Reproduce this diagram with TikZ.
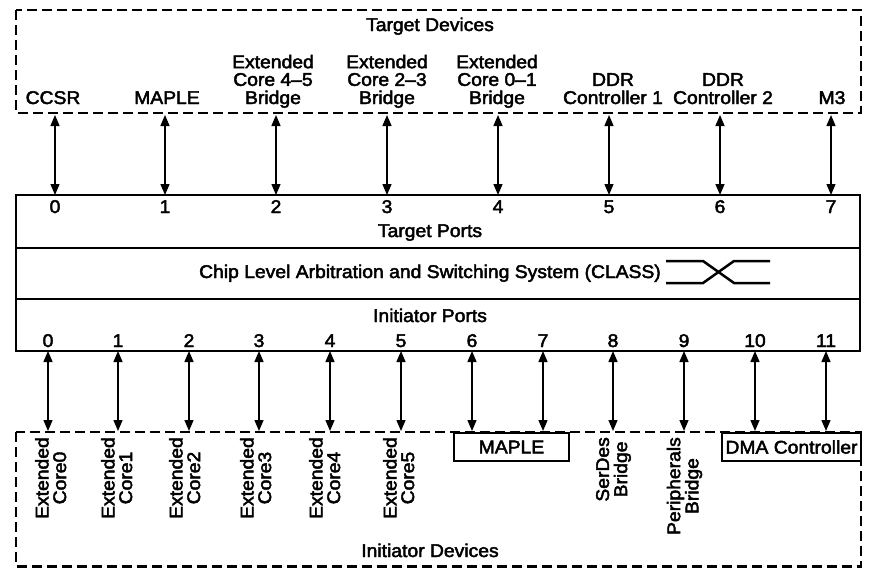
\documentclass[tikz,border=0pt]{standalone}
\usepackage{fontspec}
\setmainfont{Liberation Sans}[FakeStretch=1.05,FakeBold=2.5]
\usetikzlibrary{arrows.meta}
\newcommand{\lines}[1]{\begin{tabular}[b]{@{}c@{}}#1\end{tabular}}
\newcommand{\rlines}[1]{\begin{tabular}{@{}c@{}}#1\end{tabular}}
\begin{document}
\begin{tikzpicture}[x=1pt,y=-1pt,
  every node/.style={inner sep=0pt, font=\fontsize{18.4}{16}\selectfont},
  dbox/.style={draw, line width=2.6pt, dash pattern=on 10pt off 5pt},
  solidbox/.style={draw, line width=1.5pt},
  conn/.style={{Triangle[length=11pt,width=9pt]}-{Triangle[length=11pt,width=9pt]}, line width=1.4pt},
  lbl/.style={anchor=base},
  rlbl/.style={rotate=90, anchor=east},
  xline/.style={line width=2.5pt}
]
\useasboundingbox (0,0) rectangle (872,568);
% boxes
\draw[dbox] (16,10) rectangle (861,113);
\draw[dbox] (16,432) rectangle (861,566.5);
\draw[solidbox] (16,195) rectangle (860,351);
\draw[solidbox] (16,248) -- (860,248);
\draw[solidbox] (16,299) -- (860,299);

% titles
\node[lbl] (tdev) at (430,31) {Target Devices};
\node[lbl] (tports) at (430,237) {Target Ports};
\node[lbl] (class) at (430,278) {Chip Level Arbitration and Switching System (CLASS)};
\node[lbl] (iports) at (430,322) {Initiator Ports};
\node[lbl] (idev) at (430,557) {Initiator Devices};

% crossing symbol
\draw[xline] (666,261) -- (703,261) -- (734,283) -- (770,283);
\draw[xline] (666,283) -- (703,283) -- (734,261) -- (770,261);

% target devices
\node[lbl] (d0) at (53,104) {CCSR};
\node[lbl] (d1) at (167,104) {MAPLE};
\node[lbl] (d2) at (273,104) {\lines{Extended\\Core 4--5\\Bridge}};
\node[lbl] (d3) at (387,104) {\lines{Extended\\Core 2--3\\Bridge}};
\node[lbl] (d4) at (497,104) {\lines{Extended\\Core 0--1\\Bridge}};
\node[lbl] (d5) at (613,104) {\lines{DDR\\Controller 1}};
\node[lbl] (d6) at (723,104) {\lines{DDR\\Controller 2}};
\node[lbl] (d7) at (832,104) {M3};

% target ports and arrows
\foreach \i/\x in {0/55,1/165,2/276,3/387,4/498,5/609,6/720,7/831}{
  \coordinate (ta\i) at (\x,115);
  \coordinate (tb\i) at (\x,195);
  \node[lbl] (tp\i) at (\x,213) {\i};
  \draw[conn] (ta\i) -- (tb\i);
}

% initiator ports and arrows
\foreach \i/\x in {0/48,1/118,2/189,3/259,4/330,5/401,6/472,7/543,8/613,9/684,10/755,11/826}{
  \coordinate (ia\i) at (\x,351);
  \coordinate (ib\i) at (\x,431);
  \node[lbl] (ip\i) at (\x,347) {\i};
  \draw[conn] (ia\i) -- (ib\i);
}

% initiator devices
\node[rlbl] (c0) at (53,437) {\rlines{Extended\\Core0}};
\node[rlbl] (c1) at (119,437) {\rlines{Extended\\Core1}};
\node[rlbl] (c2) at (187,437) {\rlines{Extended\\Core2}};
\node[rlbl] (c3) at (258,437) {\rlines{Extended\\Core3}};
\node[rlbl] (c4) at (327,437) {\rlines{Extended\\Core4}};
\node[rlbl] (c5) at (401,437) {\rlines{Extended\\Core5}};
\node[rlbl] (serdes) at (614,437) {\rlines{SerDes\\Bridge}};
\node[rlbl] (periph) at (685,437) {\rlines{Peripherals\\Bridge}};
\draw[solidbox] (454,433) rectangle (569,461);
\node (maple) at (511.5,447) {MAPLE};
\draw[solidbox] (722,433) rectangle (861,461);
\node (dma) at (791.5,447) {DMA Controller};
\end{tikzpicture}
\end{document}
